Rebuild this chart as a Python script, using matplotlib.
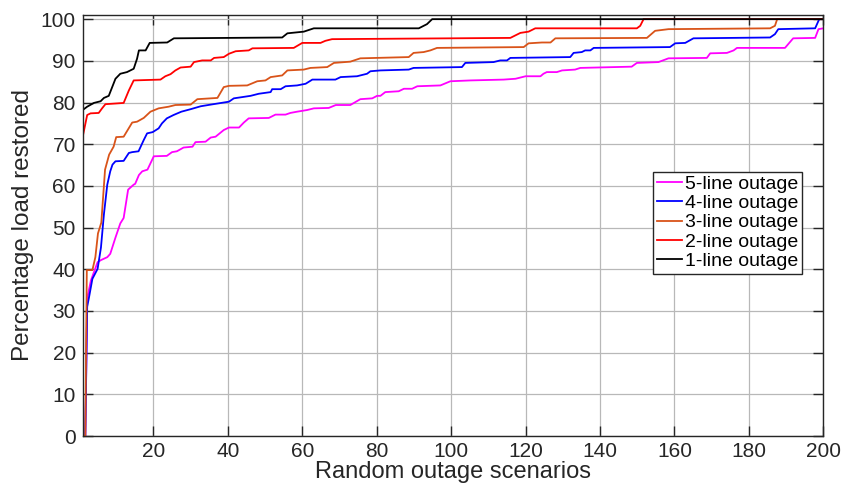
import matplotlib
matplotlib.use("Agg")
import matplotlib.pyplot as plt

plt.rcParams['font.family'] = ['Liberation Sans', 'DejaVu Sans']

# ---- data ----
x5 = [1, 1.7, 2.2, 3.2, 5, 5.9, 7.6, 8.4, 9.8, 11.1, 12.0, 13.2, 14.7, 15.1, 16.1, 17.0, 18.4, 20.1, 23.6, 25.0,
      26.3, 28.1, 30.5, 31.3, 34.0, 35.4, 36.7, 38.9, 40.3, 43.0, 44.3, 45.6, 51.0, 52.8, 55.5, 56.8, 58.6,
      61.3, 63.1, 67.1, 69.0, 72.9, 75.6, 78.8, 80.1, 81.0, 82.3, 85.9, 87.3, 89.5, 90.9, 97.1, 99.8, 105.2,
      114.1, 117.3, 120.0, 124.0, 124.8, 125.7, 128.4, 129.8, 133.3, 134.7, 148.5, 149.9, 155.7, 158.4,
      168.7, 169.6, 174.1, 175.9, 176.8, 189.7, 191.9, 197.8, 198.7, 200]
y5 = [0, 0, 33, 37.3, 41.7, 42.2, 42.9, 43.7, 47.6, 51.0, 52.3, 59.1, 60.3, 60.5, 62.6, 63.5, 63.9, 67.1, 67.2, 68.1,
      68.3, 69.2, 69.4, 70.5, 70.6, 71.6, 71.8, 73.4, 74.0, 74.0, 75.2, 76.2, 76.3, 77.1, 77.1, 77.5, 77.8,
      78.2, 78.6, 78.7, 79.4, 79.4, 80.8, 81.0, 81.6, 81.6, 82.5, 82.7, 83.3, 83.3, 83.9, 84.1, 85.1, 85.3,
      85.5, 85.7, 86.3, 86.3, 86.9, 87.3, 87.3, 87.7, 87.9, 88.3, 88.6, 89.5, 89.7, 90.6,
      90.7, 91.8, 91.9, 92.5, 93.1, 93.1, 95.4, 95.5, 97.6, 97.8]

x4 = [1, 1.7, 2.2, 2.7, 3.6, 5.0, 5.9, 6.7, 7.6, 8.4, 9.0, 9.8, 12.0, 13.4, 14.3, 16.0, 17.4, 18.3, 19.8, 21.4,
      22.3, 23.6, 25.4, 27.5, 30.0, 32.7, 35.4, 40.3, 41.6, 46.1, 48.3, 51.5, 51.9, 54.2, 55.5, 58.6, 60.9,
      62.7, 68.9, 70.3, 74.7, 77.4, 78.3, 81.0, 88.6, 89.9, 102.9, 103.8, 111.4, 113.2, 115.0, 115.9, 132.0,
      132.9, 135.1, 136.0, 137.4, 138.3, 158.8, 160.2, 162.9, 165.1, 185.7, 187.0, 187.9, 197.8, 198.9, 200]
y4 = [0, 0, 31, 33.3, 37.7, 40.1, 45.2, 53.2, 60.3, 63.5, 65.1, 65.9, 66.0, 67.9, 68.1, 68.3, 71.0, 72.6, 72.9, 73.8,
      75.0, 76.2, 77.0, 77.8, 78.4, 79.1, 79.5, 80.2, 81.0, 81.6, 82.1, 82.5, 83.2, 83.2, 83.9, 84.1, 84.5,
      85.5, 85.5, 86.1, 86.3, 86.9, 87.5, 87.7, 87.9, 88.3, 88.5, 89.5, 89.7, 90.1, 90.1, 90.7, 90.9,
      91.9, 92.1, 92.5, 92.5, 93.1, 93.3, 94.2, 94.3, 95.4, 95.6, 96.4, 97.6, 97.8, 100, 100]

x3 = [1, 1.7, 2.1, 3.6, 4.4, 5.1, 6.0, 7.0, 8.1, 9.3, 10.0, 12.0, 14.3, 15.6, 17.4, 19.2, 21.4, 24.1, 25.9,
      30.0, 31.8, 37.2, 38.9, 40.3, 45.2, 47.9, 50.1, 51.5, 54.6, 56.0, 60.4, 62.2, 66.7, 68.5, 72.9, 75.6,
      88.6, 89.9, 92.6, 94.4, 96.2, 119.5, 120.8, 124.4, 126.7, 128.0, 152.6, 154.8, 158.4, 185.7, 187.0,
      187.6, 200]
y3 = [0, 0, 39.8, 39.8, 42.9, 48.6, 51.2, 63.9, 67.5, 69.4, 71.7, 71.8, 75.2, 75.4, 76.3, 77.8, 78.6, 79.0, 79.4,
      79.5, 80.8, 81.1, 83.7, 84.0, 84.1, 85.1, 85.3, 86.1, 86.5, 87.7, 87.9, 88.3, 88.5, 89.5, 89.8, 90.6,
      90.9, 91.9, 92.1, 92.5, 93.1, 93.3, 94.2, 94.4, 94.4, 95.4, 95.5, 97.2, 97.6, 97.8, 98.4,
      100, 100]

x2 = [1, 2.2, 3.1, 5.3, 6.2, 7.1, 12.0, 13.4, 14.7, 21.9, 23.2, 24.6, 25.9, 27.3, 30.0, 30.9, 33.1, 35.4,
      36.3, 38.9, 40.3, 42.1, 45.6, 46.6, 57.7, 60.0, 64.9, 66.2, 68.0, 115.9, 118.6, 120.8, 122.6,
      149.9, 150.8, 151.7, 200]
y2 = [71.8, 77.0, 77.4, 77.5, 78.6, 79.6, 79.9, 82.9, 85.3, 85.5, 86.3, 86.8, 87.7, 88.4, 88.6, 89.7, 90.1, 90.1,
      90.7, 90.9, 91.7, 92.3, 92.5, 93.0, 93.1, 94.3, 94.3, 94.8, 95.2, 95.5, 96.7, 97.0, 97.8,
      97.8, 98.4, 100, 100]

x1 = [1, 2.2, 4.0, 5.8, 6.7, 8.0, 9.8, 11.1, 12.9, 14.7, 15.6, 16.1, 17.9, 19.0, 23.7, 25.5, 54.6, 56.0,
      60.4, 63.1, 91.3, 93.5, 94.9, 200]
y1 = [78.2, 79.0, 79.9, 80.3, 81.1, 81.6, 85.7, 86.9, 87.3, 88.1, 90.5, 92.5, 92.5, 94.3, 94.4, 95.4, 95.6, 96.6,
      97.0, 97.8, 97.8, 98.8, 100, 100]

series = [(x5, y5, '5-line outage', '#FF00FF'),
          (x4, y4, '4-line outage', '#0000FF'),
          (x3, y3, '3-line outage', '#D95319'),
          (x2, y2, '2-line outage', '#FF0000'),
          (x1, y1, '1-line outage', '#000000')]

xticks = [20, 40, 60, 80, 100, 120, 140, 160, 180, 200]
yticks = [0, 10, 20, 30, 40, 50, 60, 70, 80, 90, 100]

fig = plt.figure(figsize=(8.44, 4.91), dpi=100)
ax = fig.add_axes([0.098, 0.112, 0.8775, 0.8575])

for xs, ys, lab, col in series:
    ax.plot(xs, ys, color=col, lw=1.3, label=lab)

ax.set_xlim(1, 200)
ax.set_ylim(0, 101)
ax.set_xticks(xticks)
ax.set_yticks(yticks)
ax.grid(True, color='#b8b8b8', lw=0.9)
ax.set_axisbelow(True)
ax.tick_params(direction='in', length=7, width=1, top=True, right=True,
               labelsize=15, colors='#262626')
ax.tick_params(axis='x', pad=4)
ax.tick_params(axis='y', pad=5)
for s in ax.spines.values():
    s.set_color('#262626')
    s.set_linewidth(1.0)

ax.set_xlabel('Random outage scenarios', fontsize=17, color='#262626', labelpad=0)
ax.set_ylabel('Percentage load restored', fontsize=17.5, color='#262626', labelpad=5)

leg = ax.legend(loc='upper left', bbox_to_anchor=(0.77, 0.628), fontsize=14,
                handlelength=1.3, handletextpad=0.15, labelspacing=0.08,
                borderpad=0.2, borderaxespad=0, fancybox=False, framealpha=1,
                edgecolor='#262626')
leg.get_frame().set_linewidth(1.0)

fig.savefig('out.png', dpi=100)
